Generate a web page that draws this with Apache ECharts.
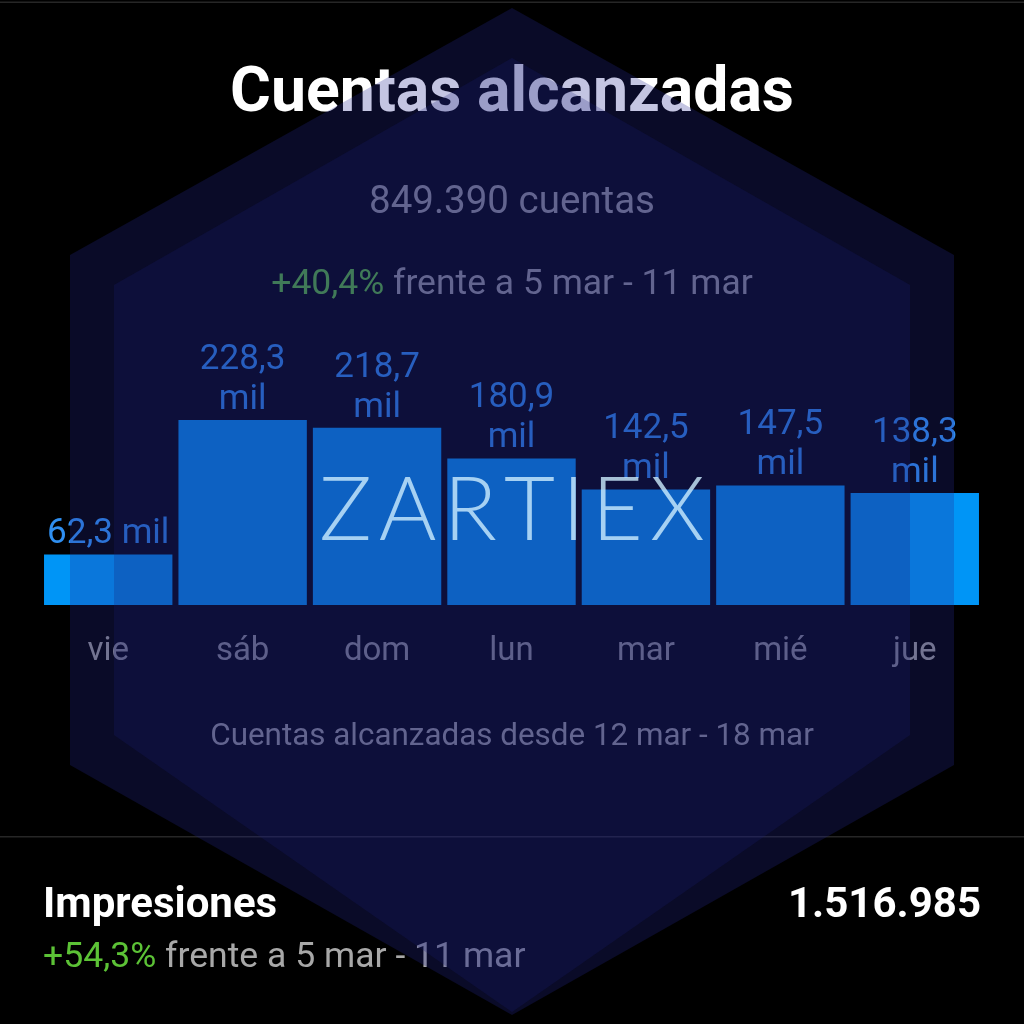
<!DOCTYPE html>
<html><head><meta charset="utf-8">
<script src="https://cdn.jsdelivr.net/npm/echarts@6/dist/echarts.min.js"></script>
<style>html,body{margin:0;padding:0;background:#000;}#c{width:1024px;height:1024px;}</style>
</head><body><div id="c"></div>
<script>
// ---- data ----
const categories = ['vie', 'sáb', 'dom', 'lun', 'mar', 'mié', 'jue'];
const reachThousands = [62.3, 228.3, 218.7, 180.9, 142.5, 147.5, 138.3];
const unitText = 'mil';
const titleText = 'Cuentas alcanzadas';
const totalText = '849.390 cuentas';
const changeText = '+40,4%';
const compareText = 'frente a 5 mar - 11 mar';
const footnoteText = 'Cuentas alcanzadas desde 12 mar - 18 mar';
const impressionsLabel = 'Impresiones';
const impressionsValue = '1.516.985';
const impressionsChange = '+54,3%';
const watermarkText = 'ZARTIEX';

// ---- chart ----
const chart = echarts.init(document.getElementById('c'), null, {renderer: 'canvas'});
const F = 'Roboto, "Noto Sans", sans-serif';
const GRAY = '#9a9a9a';
const GREEN = '#5cc236';

const wmRich = {w: {fill: 'rgba(205,238,255,0.8)', fontSize: 88, fontFamily: 'Lato, Inter, sans-serif', fontWeight: 300, padding: [0, 3.5]}};
const wmText = watermarkText.split('').map(ch => '{w|' + ch + '}').join('');

chart.setOption({
  backgroundColor: '#000',
  animation: false,
  grid: {left: 41, right: 42, top: 402.5, bottom: 419, containLabel: false},
  xAxis: {
    type: 'category', data: categories,
    axisLine: {show: false}, axisTick: {show: false},
    axisLabel: {color: '#909090', fontSize: 33, fontFamily: F, margin: 47, verticalAlign: 'middle'}
  },
  yAxis: {type: 'value', min: 0, max: 250, show: false, splitLine: {show: false}},
  series: [{
    type: 'bar', data: reachThousands, barCategoryGap: '4.5%',
    itemStyle: {color: '#0095f6'},
    label: {
      show: true, position: 'top', distance: 0,
      color: '#2f8ff0', fontSize: 35, fontFamily: F, lineHeight: 40, align: 'center',
      formatter: p => {
        const s = p.value.toFixed(1).replace('.', ',');
        return p.dataIndex === 0 ? s + ' ' + unitText : s + '\n' + unitText;
      }
    }
  }],
  graphic: [
    {type: 'rect', z: 1, silent: true, shape: {x: 0, y: 1.5, width: 1024, height: 1.5}, style: {fill: '#262626'}},
    {type: 'rect', z: 1, silent: true, shape: {x: 0, y: 836, width: 1024, height: 1.5}, style: {fill: '#262626'}},
    {type: 'text', z: 1, silent: true, style: {text: titleText, x: 512, y: 95, align: 'center', verticalAlign: 'middle', fontSize: 62.5, fontWeight: 'bold', fontFamily: F, fill: '#ffffff'}},
    {type: 'text', z: 1, silent: true, style: {text: totalText, x: 512, y: 203, align: 'center', verticalAlign: 'middle', fontSize: 38.5, fontFamily: F, fill: GRAY}},
    {type: 'text', z: 1, silent: true, style: {
      text: '{g|' + changeText + '} {n|' + compareText + '}', x: 512, y: 285, align: 'center', verticalAlign: 'middle',
      fontSize: 35.5, fontFamily: F, fill: GRAY,
      rich: {g: {fill: GREEN, fontSize: 35.5, fontFamily: F}, n: {fill: GRAY, fontSize: 35.5, fontFamily: F}}
    }},
    {type: 'text', z: 1, silent: true, style: {text: footnoteText, x: 512, y: 737, align: 'center', verticalAlign: 'middle', fontSize: 31.4, fontFamily: F, fill: GRAY}},
    {type: 'text', z: 1, silent: true, style: {text: impressionsLabel, x: 43, y: 906, align: 'left', verticalAlign: 'middle', fontSize: 42, fontWeight: 'bold', fontFamily: F, fill: '#ffffff'}},
    {type: 'text', z: 1, silent: true, style: {text: impressionsValue, x: 981, y: 906, align: 'right', verticalAlign: 'middle', fontSize: 42, fontWeight: 'bold', fontFamily: F, fill: '#ffffff'}},
    {type: 'text', z: 1, silent: true, style: {
      text: '{g|' + impressionsChange + '} {n|' + compareText + '}', x: 43, y: 958, align: 'left', verticalAlign: 'middle',
      fontSize: 35.6, fontFamily: F, fill: '#a8a8a8',
      rich: {g: {fill: GREEN, fontSize: 35.6, fontFamily: F}, n: {fill: '#a8a8a8', fontSize: 35.6, fontFamily: F}}
    }},
    // hexagon watermark overlay
    {type: 'polygon', z: 100, silent: true, shape: {points: [[512, 8], [954, 255], [954, 765], [512, 1015], [70, 765], [70, 255]]}, style: {fill: 'rgba(37,41,148,0.27)'}},
    {type: 'polygon', z: 101, silent: true, shape: {points: [[512, 58], [910, 285], [910, 735], [512, 1012], [114, 735], [114, 285]]}, style: {fill: 'rgba(27,28,115,0.24)'}},
    {type: 'text', z: 110, silent: true, style: {text: wmText, x: 512, y: 512, align: 'center', verticalAlign: 'middle', rich: wmRich}}
  ]
});
</script></body></html>
